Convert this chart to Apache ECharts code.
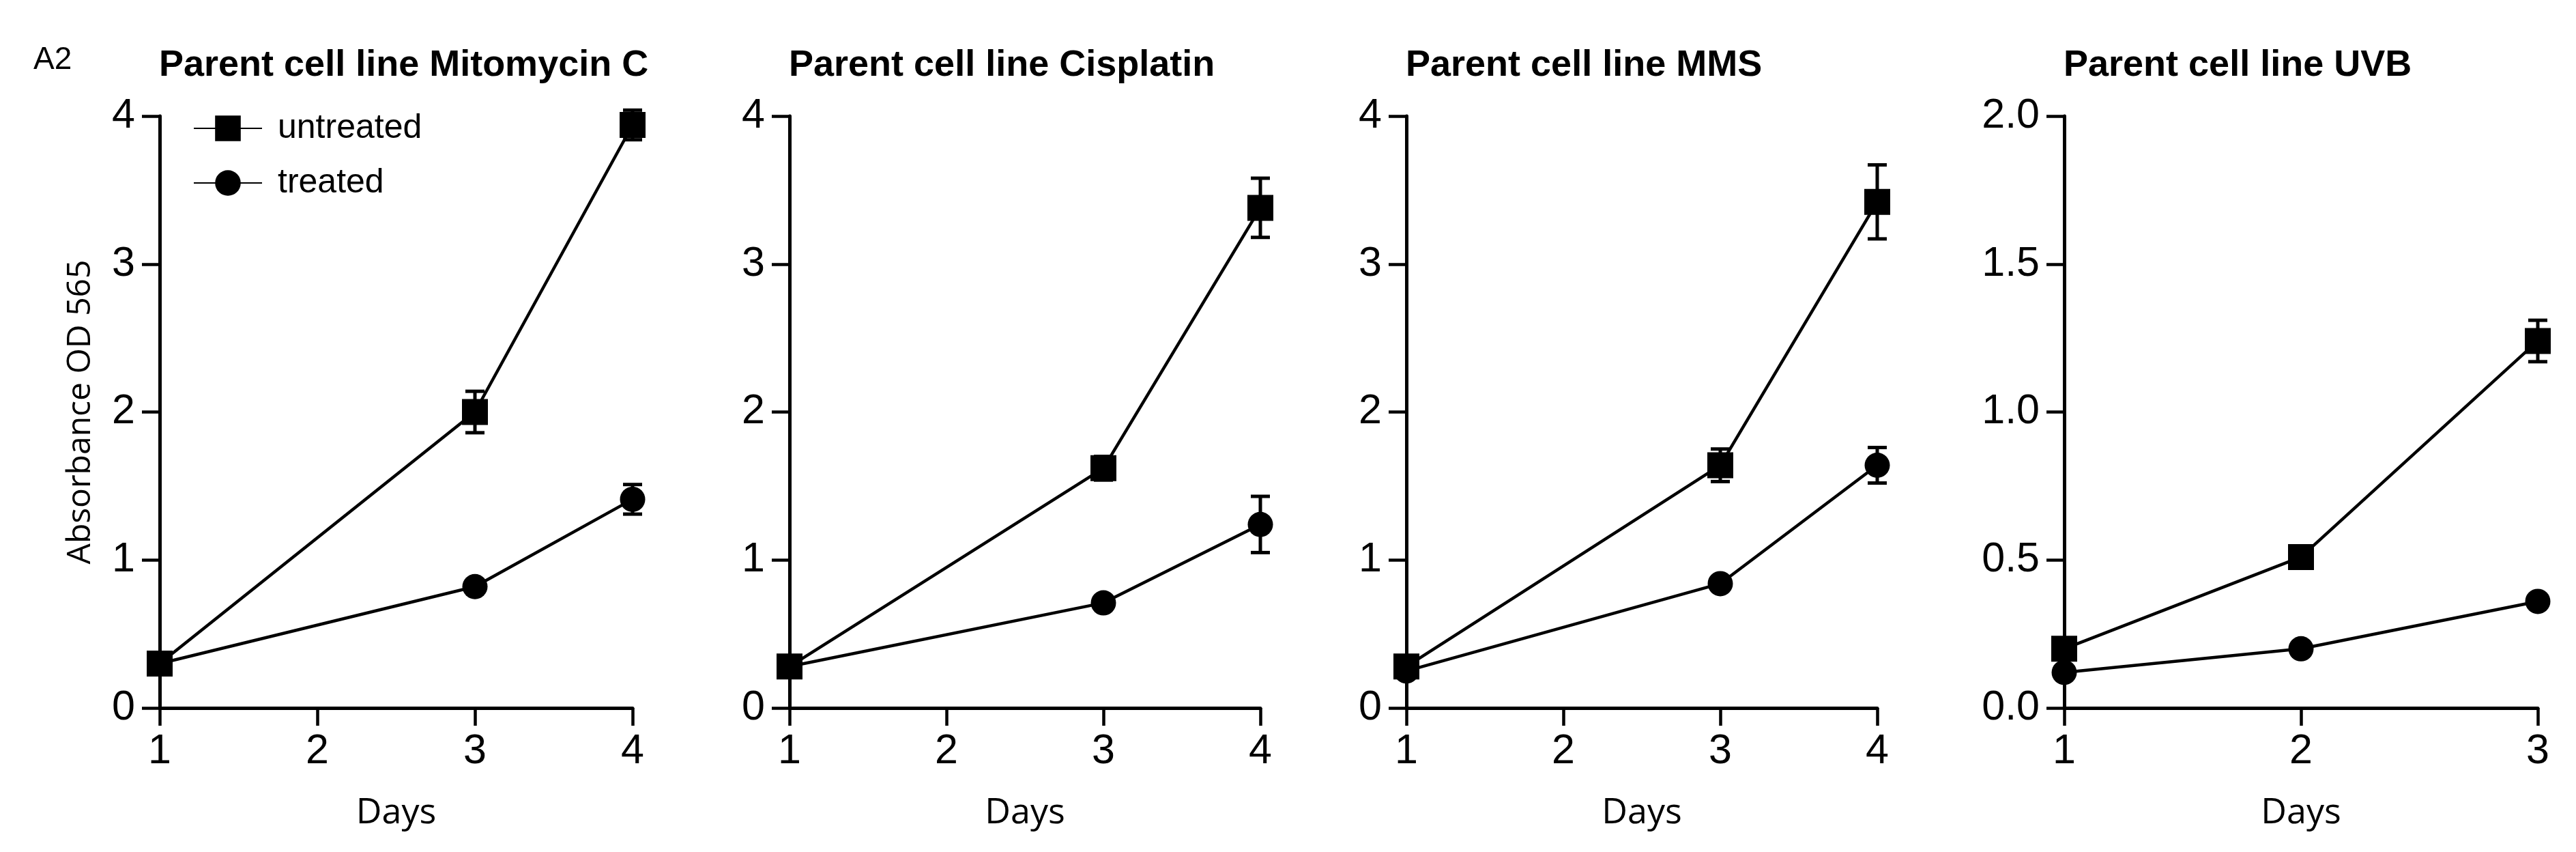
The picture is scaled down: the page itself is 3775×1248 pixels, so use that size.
<!DOCTYPE html>
<html>
<head>
<meta charset="utf-8">
<title>Parent cell line</title>
<script src="https://cdn.jsdelivr.net/npm/echarts@6/dist/echarts.min.js"></script>
<style>
  html, body { margin: 0; padding: 0; background: #fff; }
  #main { width: 3775px; height: 1248px; }
</style>
</head>
<body>
<div id="main"></div>
<script>
// days measured in each panel
var daysA = [1, 3, 4];
var daysB = [1, 2, 3];

// panel titles
var panelTitles = ['Parent cell line Mitomycin C', 'Parent cell line Cisplatin', 'Parent cell line MMS', 'Parent cell line UVB'];

// mean absorbance and error
var mitoUntreated = [0.30, 2.00, 3.94];
var mitoUntreatedErr = [0.02, 0.14, 0.10];
var mitoTreated = [0.30, 0.82, 1.41];
var mitoTreatedErr = [0.02, 0.03, 0.10];

var cisUntreated = [0.28, 1.62, 3.38];
var cisUntreatedErr = [0.03, 0.08, 0.20];
var cisTreated = [0.28, 0.71, 1.24];
var cisTreatedErr = [0.02, 0.03, 0.19];

var mmsUntreated = [0.28, 1.64, 3.42];
var mmsUntreatedErr = [0.04, 0.11, 0.25];
var mmsTreated = [0.25, 0.84, 1.64];
var mmsTreatedErr = [0.03, 0.03, 0.12];

var uvbUntreated = [0.20, 0.51, 1.24];
var uvbUntreatedErr = [0.02, 0.02, 0.07];
var uvbTreated = [0.12, 0.20, 0.36];
var uvbTreatedErr = [0.01, 0.01, 0.02];

// axis ranges
var xMaxA = 4, xMaxB = 3;
var yMaxA = 4, yStepA = 1;
var yMaxB = 2, yStepB = 0.5;

var panels = [
  { days: daysA, u: mitoUntreated, ue: mitoUntreatedErr, t: mitoTreated, te: mitoTreatedErr, xMax: xMaxA, yMax: yMaxA, yStep: yStepA },
  { days: daysA, u: cisUntreated, ue: cisUntreatedErr, t: cisTreated, te: cisTreatedErr, xMax: xMaxA, yMax: yMaxA, yStep: yStepA },
  { days: daysA, u: mmsUntreated, ue: mmsUntreatedErr, t: mmsTreated, te: mmsTreatedErr, xMax: xMaxA, yMax: yMaxA, yStep: yStepA },
  { days: daysB, u: uvbUntreated, ue: uvbUntreatedErr, t: uvbTreated, te: uvbTreatedErr, xMax: xMaxB, yMax: yMaxB, yStep: yStepB }
];

var gridLeft = [234, 1157, 2061, 3025];
var gridWidth = [693, 690, 690, 694];
var gridTop = 170, gridHeight = 867;

var tickFont = 'Liberation Sans, Arial, sans-serif';
var nameFont = 'Open Sans, sans-serif';

function pairs(xs, ys) {
  return xs.map(function (x, i) { return [x, ys[i]]; });
}
function triples(xs, ys, es) {
  return xs.map(function (x, i) { return [x, ys[i], es[i]]; });
}

// 误差线
function renderErr(params, api) {
  var x = api.value(0), y = api.value(1), e = api.value(2);
  var top = api.coord([x, y + e]);
  var bot = api.coord([x, y - e]);
  var w = 14;
  var st = { stroke: '#000', lineWidth: 5 };
  return {
    type: 'group',
    children: [
      { type: 'line', shape: { x1: top[0], y1: top[1], x2: bot[0], y2: bot[1] }, style: st },
      { type: 'line', shape: { x1: top[0] - w, y1: top[1], x2: top[0] + w, y2: top[1] }, style: st },
      { type: 'line', shape: { x1: bot[0] - w, y1: bot[1], x2: bot[0] + w, y2: bot[1] }, style: st }
    ]
  };
}

var grids = [], xAxes = [], yAxes = [], series = [];
var titles = [{
  text: 'A2', left: 44, top: 60,
  textStyle: { fontFamily: tickFont, fontSize: 46, fontWeight: 'normal', color: '#000' }
}];

panels.forEach(function (p, i) {
  grids.push({ left: gridLeft[i], top: gridTop, width: gridWidth[i], height: gridHeight });
  titles.push({
    text: panelTitles[i], left: gridLeft[i] - 6, top: 64,
    textStyle: { fontFamily: tickFont, fontSize: 54, fontWeight: 'bold', color: '#000' }
  });
  xAxes.push({
    gridIndex: i, type: 'value', min: 1, max: p.xMax, interval: 1,
    name: 'Days', nameLocation: 'middle', nameGap: 128,
    nameTextStyle: { fontFamily: nameFont, fontSize: 52, color: '#000' },
    axisLine: { onZero: false, lineStyle: { color: '#000', width: 5 } },
    axisTick: { length: 26, lineStyle: { color: '#000', width: 4.5 } },
    axisLabel: { margin: 34, fontFamily: tickFont, fontSize: 61, color: '#000' },
    splitLine: { show: false }
  });
  yAxes.push({
    gridIndex: i, type: 'value', min: 0, max: p.yMax, interval: p.yStep,
    name: i === 0 ? 'Absorbance OD 565' : '', nameLocation: 'middle', nameGap: 92,
    nameTextStyle: { fontFamily: nameFont, fontSize: 48, color: '#000' },
    axisLine: { show: true, onZero: false, lineStyle: { color: '#000', width: 5 } },
    axisTick: { show: true, length: 26, lineStyle: { color: '#000', width: 4.5 } },
    axisLabel: {
      margin: 36, fontFamily: tickFont, fontSize: 61, color: '#000',
      formatter: function (v) { return p.yStep < 1 ? v.toFixed(1) : String(v); }
    },
    splitLine: { show: false }
  });

  series.push({
    type: 'custom', xAxisIndex: i, yAxisIndex: i, renderItem: renderErr,
    data: triples(p.days, p.t, p.te), z: 1, silent: true
  });
  series.push({
    type: 'custom', xAxisIndex: i, yAxisIndex: i, renderItem: renderErr,
    data: triples(p.days, p.u, p.ue), z: 1, silent: true
  });
  series.push({
    name: 'treated', type: 'line', xAxisIndex: i, yAxisIndex: i,
    data: pairs(p.days, p.t), symbol: 'circle', symbolSize: 37, clip: false,
    lineStyle: { color: '#000', width: 4.5 }, itemStyle: { color: '#000' }, z: 3
  });
  series.push({
    name: 'untreated', type: 'line', xAxisIndex: i, yAxisIndex: i,
    data: pairs(p.days, p.u), symbol: 'rect', symbolSize: 38, clip: false,
    lineStyle: { color: '#000', width: 4.5 }, itemStyle: { color: '#000' }, z: 4
  });
});

var chart = echarts.init(document.getElementById('main'));
chart.setOption({
  backgroundColor: '#fff',
  animation: false,
  title: titles,
  legend: {
    data: ['untreated', 'treated'], orient: 'vertical',
    left: 278, top: 158, itemWidth: 100, itemHeight: 47, itemGap: 30,
    selectedMode: false,
    textStyle: { fontFamily: tickFont, fontSize: 50, color: '#000', padding: [0, 0, 0, 18] }
  },
  grid: grids,
  xAxis: xAxes,
  yAxis: yAxes,
  series: series
});
</script>
</body>
</html>
